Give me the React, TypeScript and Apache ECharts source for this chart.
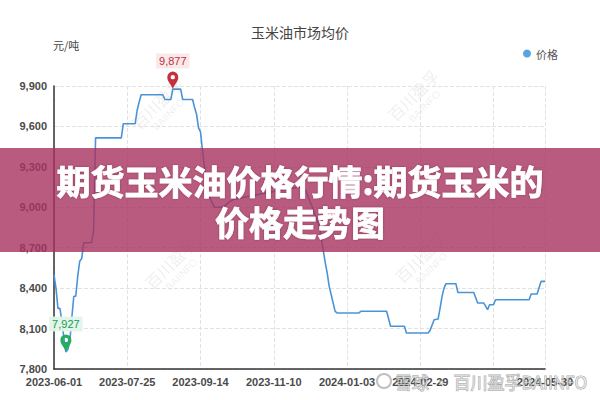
import React, { useEffect, useRef } from 'react';
import * as echarts from 'echarts';

// ---- calendar (Chinese working days) used as the category axis ----
const START_DATE = '2023-06-01';
const END_DATE = '2024-05-30';
const HOLIDAYS = [
  '2023-06-22', '2023-06-23', '2023-09-29', '2023-10-02', '2023-10-03', '2023-10-04',
  '2023-10-05', '2023-10-06', '2024-01-01', '2024-02-09', '2024-02-12', '2024-02-13',
  '2024-02-14', '2024-02-15', '2024-02-16', '2024-04-04', '2024-04-05', '2024-05-01',
  '2024-05-02', '2024-05-03',
];
const MAKEUP_WORKDAYS = [
  '2023-06-25', '2023-10-07', '2023-10-08', '2024-02-04', '2024-02-18', '2024-04-07',
  '2024-04-28', '2024-05-11',
];

// ---- tick labels ----
const xLabelDates = ['2023-06-01', '2023-07-25', '2023-09-14', '2023-11-10', '2024-01-03', '2024-02-29', '2024-05-30'];
const xGridDates = ['2023-06-01', '2023-07-25', '2023-09-14', '2023-11-10', '2024-01-03', '2024-02-29', '2024-04-23', '2024-05-30'];
const yMin = 7800;
const yMax = 9900;
const yStep = 300;

// ---- series values (price change points) ----
const priceDates = [
  '2023-06-01', '2023-06-02', '2023-06-05', '2023-06-06', '2023-06-07', '2023-06-08', '2023-06-09',
  '2023-06-12', '2023-06-13', '2023-06-14', '2023-06-15', '2023-06-16', '2023-06-19', '2023-06-20',
  '2023-06-21', '2023-06-25', '2023-06-29', '2023-06-30', '2023-07-03', '2023-07-20', '2023-07-21',
  '2023-07-31', '2023-08-01', '2023-08-02', '2023-08-03', '2023-08-18', '2023-08-21', '2023-08-24',
  '2023-08-25', '2023-08-31', '2023-09-01', '2023-09-08', '2023-09-11', '2023-09-12', '2023-09-13',
  '2023-09-14', '2023-09-15', '2023-09-18', '2023-09-19', '2023-09-21', '2023-09-25', '2023-10-07',
  '2023-10-09', '2023-10-11', '2023-10-13', '2023-11-02', '2023-11-29', '2023-12-04', '2023-12-08',
  '2023-12-13', '2023-12-15', '2023-12-18', '2023-12-19', '2023-12-20', '2023-12-22', '2023-12-25',
  '2023-12-26', '2024-01-11', '2024-01-12', '2024-01-31', '2024-02-02', '2024-02-19', '2024-02-20',
  '2024-03-06', '2024-03-07', '2024-03-11', '2024-03-13', '2024-03-14', '2024-03-15', '2024-03-18',
  '2024-03-19', '2024-03-26', '2024-03-27', '2024-04-09', '2024-04-11', '2024-04-16', '2024-04-18',
  '2024-04-19', '2024-04-23', '2024-04-24', '2024-05-20', '2024-05-21', '2024-05-24', '2024-05-28',
  '2024-05-30',
];
const priceValues = [
  8500, 8400, 8250, 8250, 8150, 8030, 7927,
  7945, 8010, 8180, 8340, 8340, 8490, 8600,
  8620, 8737, 8737, 8830, 9515, 9515, 9620,
  9620, 9720, 9780, 9835, 9835, 9800, 9800,
  9877, 9877, 9800, 9800, 9740, 9690, 9590,
  9560, 9420, 9300, 9150, 9060, 9000, 9000,
  9020, 9045, 9060, 9100, 9150, 9130, 8980,
  8860, 8680, 8590, 8512, 8413, 8290, 8228,
  8216, 8216, 8228, 8228, 8117, 8117, 8067,
  8067, 8087, 8166, 8171, 8250, 8339, 8400,
  8433, 8433, 8368, 8368, 8290, 8290, 8240,
  8277, 8277, 8314, 8314, 8357, 8357, 8450,
  8450,
];

const seriesName = '价格';
const titleText = '玉米油市场均价';
const unitText = '元/吨';
const bannerText = '期货玉米油价格行情:期货玉米的\n价格走势图';

function buildWorkingDays(): string[] {
  const hol = new Set(HOLIDAYS);
  const extra = new Set(MAKEUP_WORKDAYS);
  const out: string[] = [];
  const d = new Date(START_DATE + 'T00:00:00Z');
  const end = new Date(END_DATE + 'T00:00:00Z');
  while (d.getTime() <= end.getTime()) {
    const s = d.toISOString().slice(0, 10);
    const wd = d.getUTCDay();
    if ((wd !== 0 && wd !== 6 && !hol.has(s)) || extra.has(s)) out.push(s);
    d.setUTCDate(d.getUTCDate() + 1);
  }
  return out;
}

const PIN =
  'path://M6,19 C4.5,14 0,11 0,6 A6,6 0 1,1 12,6 C12,11 7.5,14 6,19 Z M6,3.6 A2.4,2.4 0 1,0 6,8.4 A2.4,2.4 0 1,0 6,3.6 Z';

const fmt = (v: number) => Number(v).toLocaleString('en-US');

function watermark(x: number, y: number) {
  return {
    type: 'group',
    x,
    y,
    rotation: Math.PI / 4,
    z: 50,
    silent: true,
    children: [
      {
        type: 'text',
        style: { text: '百川盈孚', x: 0, y: -7, fontSize: 16, fill: 'rgba(150,150,150,0.16)', align: 'center', verticalAlign: 'middle', fontFamily: 'Noto Sans CJK SC' },
      },
      {
        type: 'text',
        style: { text: 'BAIINFO', x: 0, y: 9, fontSize: 10, fill: 'rgba(150,150,150,0.16)', align: 'center', verticalAlign: 'middle', fontFamily: 'Liberation Sans' },
      },
    ],
  };
}

export default function App() {
  const ref = useRef<HTMLDivElement>(null);
  useEffect(() => {
    if (!ref.current) return;
    const chart = echarts.init(ref.current, null, { renderer: 'svg' });
    const categories = buildWorkingDays();
    const data = priceDates.map((d, i) => [d, priceValues[i]]);
    const labelSet = new Set(xLabelDates);
    const gridSet = new Set(xGridDates);
    const lineColor = '#4b93d8';
    const axisLabelStyle = {
      color: '#4a4a4a',
      fontSize: 11,
      fontWeight: 'bold' as const,
      fontFamily: 'Liberation Sans, Noto Sans CJK SC, sans-serif',
    };
    chart.setOption({
      animation: false,
      backgroundColor: '#ffffff',
      title: {
        text: titleText,
        left: 'center',
        top: 20,
        textStyle: { fontSize: 14, fontWeight: 'normal', color: '#444', fontFamily: 'Noto Sans CJK SC' },
      },
      legend: {
        data: [seriesName],
        right: 37,
        top: 43,
        icon: 'circle',
        itemWidth: 8,
        itemHeight: 8,
        itemGap: 4,
        itemStyle: { color: '#5aa3e3' },
        textStyle: { fontSize: 11, color: '#555', fontFamily: 'Noto Sans CJK SC' },
      },
      grid: { left: 54, right: 55, top: 86, bottom: 31 },
      xAxis: {
        type: 'category',
        data: categories,
        boundaryGap: false,
        axisLine: { show: true, lineStyle: { color: '#333', width: 1.5 } },
        axisTick: { show: false },
        axisLabel: {
          ...axisLabelStyle,
          margin: 7,
          interval: (_i: number, v: string) => labelSet.has(v),
        },
        splitLine: {
          show: true,
          interval: (_i: number, v: string) => gridSet.has(v),
          lineStyle: { color: '#e2e2e2', type: 'dashed', width: 1 },
        },
      },
      yAxis: {
        type: 'value',
        min: yMin,
        max: yMax,
        interval: yStep,
        axisLine: { show: true, lineStyle: { color: '#333', width: 1.5 } },
        axisTick: { show: false },
        axisLabel: { ...axisLabelStyle, margin: 7, formatter: (v: number) => fmt(v) },
        splitLine: { show: true, lineStyle: { color: '#e2e2e2', type: 'dashed', width: 1 } },
      },
      series: [
        {
          name: seriesName,
          type: 'line',
          data,
          showSymbol: false,
          symbol: 'none',
          z: 3,
          itemStyle: { color: lineColor },
          lineStyle: { color: lineColor, width: 1.6 },
          markPoint: {
            symbol: PIN,
            symbolSize: [11, 17.5],
            symbolOffset: [0, '-50%'],
            z: 10,
            label: {
              show: true,
              position: 'top',
              distance: 3,
              fontSize: 11,
              padding: [2, 3],
              fontFamily: 'Liberation Sans, sans-serif',
              formatter: (p: any) => fmt(p.value),
            },
            data: [
              {
                type: 'max',
                itemStyle: { color: '#c5303b' },
                label: { color: '#c5303b', backgroundColor: 'rgba(250,232,234,0.95)' },
              },
              {
                type: 'min',
                itemStyle: { color: '#25ad62' },
                label: { color: '#1e9a55', backgroundColor: 'rgba(225,245,233,0.95)' },
              },
            ],
          },
        },
      ],
      graphic: [
        { type: 'text', x: 53, y: 39, silent: true, style: { text: unitText, fontSize: 11, fill: '#444', fontFamily: 'Noto Sans CJK SC' } },
        watermark(162, 108),
        watermark(418, 100),
        watermark(175, 268),
        watermark(425, 262),
        {
          type: 'rect',
          z: 100,
          silent: true,
          shape: { x: 0, y: 148, width: 600, height: 104 },
          style: { fill: 'rgba(168,50,95,0.8)' },
        },
        {
          type: 'text',
          z: 101,
          silent: true,
          x: 300,
          y: 201,
          style: {
            text: bannerText,
            fontSize: 34,
            fontWeight: 'bold',
            lineHeight: 41,
            fill: '#ffffff',
            stroke: '#ffffff',
            lineWidth: 0.8,
            align: 'center',
            verticalAlign: 'middle',
            fontFamily: 'Noto Sans CJK SC',
            textShadowColor: 'rgba(60,0,20,0.35)',
            textShadowBlur: 2,
          },
        },
        {
          type: 'ring',
          z: 102,
          silent: true,
          shape: { cx: 384, cy: 381, r: 8, r0: 6 },
          style: { fill: 'rgba(110,110,110,0.45)' },
        },
        {
          type: 'text',
          z: 102,
          silent: true,
          x: 395,
          y: 381,
          style: {
            text: '雪球 · 百川盈孚BAIINFO',
            fontSize: 17,
            fill: 'rgba(255,255,255,0.55)',
            stroke: 'rgba(90,90,90,0.55)',
            lineWidth: 1,
            align: 'left',
            verticalAlign: 'middle',
            fontFamily: 'Noto Sans CJK SC',
          },
        },
      ],
    });
    return () => chart.dispose();
  }, []);
  return (
    <div
      ref={ref}
      style={{ position: 'absolute', left: 0, top: 0, width: 600, height: 400, background: '#fff' }}
    />
  );
}
